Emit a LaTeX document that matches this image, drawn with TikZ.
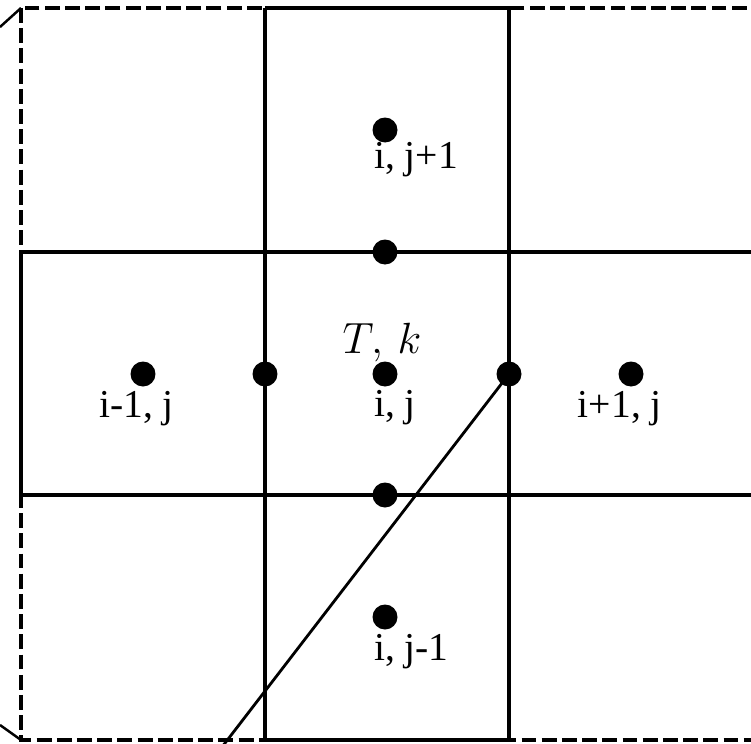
\documentclass[tikz,border=0pt]{standalone}
\usepackage{fontspec}
\setmainfont{Liberation Serif}

\newcommand{\cellname}[2]{\makebox[0pt][r]{#1}\makebox[0pt][l]{, #2}}

\tikzset{
  dot/.style={circle, fill=black, inner sep=0pt, minimum size=0.5cm},
  lab/.style={font=\fontsize{22.5}{26}\selectfont, anchor=base, inner sep=0pt},
  gridline/.style={line width=2.4pt},
  outerline/.style={line width=2.4pt, dash pattern=on 8.5pt off 3pt},
}

\begin{document}
\begin{tikzpicture}[x=0.02cm, y=-0.02cm]
            \useasboundingbox (0,0) rectangle (751,744);
            \clip (0,0) rectangle (751,744);

            % 外框（虚线）
            \draw[outerline] (21,8) rectangle (753,740);
            \draw[line width=1.4pt] (0,27) -- (21,8);
            \draw[line width=1.4pt] (0,725) -- (21,740);

            % 中心十字形网格
            \draw[gridline] (265,8) -- (265,740);
            \draw[gridline] (509,8) -- (509,740);
            \draw[gridline] (21,252) -- (753,252);
            \draw[gridline] (21,495) -- (753,495);
            \draw[gridline] (265,8) -- (509,8);
            \draw[gridline] (265,740) -- (509,740);
            \draw[gridline] (21,252) -- (21,495);
            \draw[gridline] (753,252) -- (753,495);

            % 节点与界面点
            \node[dot] (c) at (385,374) {};
            \node[dot] (n) at (385,130) {};
            \node[dot] (s) at (385,617) {};
            \node[dot] (w) at (143,374) {};
            \node[dot] (ee) at (631,374) {};
            \node[dot] (fn) at (385,252) {};
            \node[dot] (fs) at (385,495) {};
            \node[dot] (fw) at (265,374) {};
            \node[dot] (fe) at (509,374) {};

            % 斜线
            \coordinate (tail) at (212,760);
            \draw[line width=1.6pt] (fe.center) -- (tail);

            % 标注
            \path (c) ++(0,42) node[lab] {\cellname{i}{j}};
            \path (n) ++(0,38) node[lab] {\cellname{i}{j+1}};
            \path (s) ++(0,43) node[lab] {\cellname{i}{j-1}};
            \path (w) ++(0,43) node[lab] {\cellname{i-1}{j}};
            \path (ee) ++(0,43) node[lab] {\cellname{i+1}{j}};
            \node[font=\fontsize{28}{32}\selectfont, anchor=base] (tk) at (382,353) {$T,\,k$};
        \end{tikzpicture}
\end{document}
